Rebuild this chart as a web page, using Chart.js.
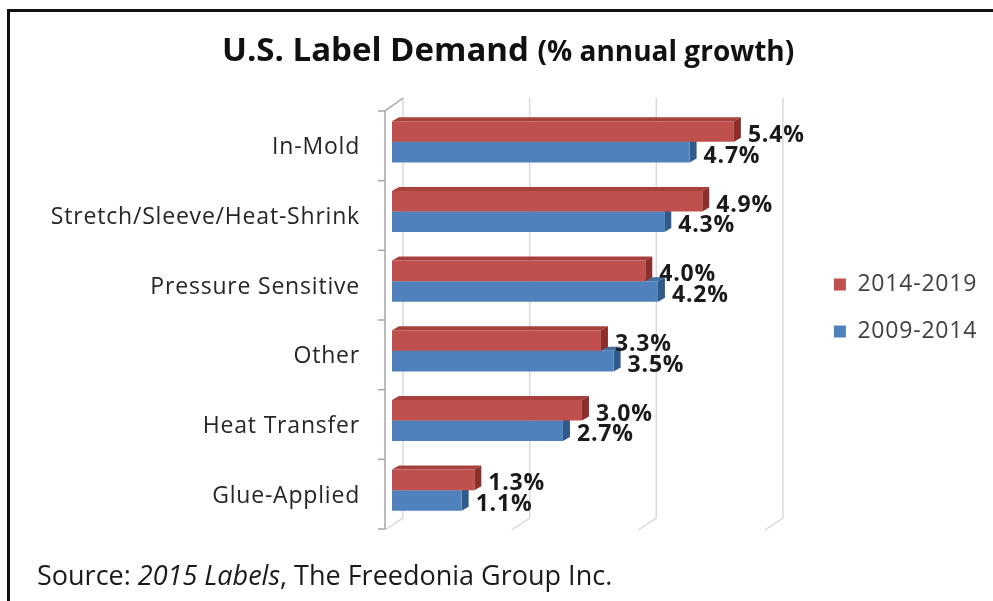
<!DOCTYPE html>
<html><head><meta charset="utf-8">
<script src="https://cdn.jsdelivr.net/npm/chart.js@4.4.0/dist/chart.umd.min.js"></script>
<style>
html,body{margin:0;padding:0;background:#fff;}
#wrap{position:relative;width:993px;height:601px;overflow:hidden;font-family:"Open Sans",Lato,sans-serif;}
#frame{position:absolute;left:7px;top:9px;right:-10px;bottom:-10px;border-top:3px solid #111;border-left:3px solid #111;}
#title{position:absolute;left:222px;top:26px;white-space:nowrap;font-weight:bold;color:#111;font-size:33px;}
#title span{font-size:28px;}
#source{position:absolute;left:37px;top:556px;font-size:27px;color:#1a1a1a;white-space:nowrap;}
canvas{position:absolute;left:0;top:0;}
</style></head>
<body><div id="wrap"><div id="frame"></div>
<canvas id="c" width="993" height="601"></canvas>
<div id="title">U.S. Label Demand <span>(% annual growth)</span></div>
<div id="source">Source: <i>2015 Labels</i>, The Freedonia Group Inc.</div>
</div>
<script>
const categories = ['In-Mold','Stretch/Sleeve/Heat-Shrink','Pressure Sensitive','Other','Heat Transfer','Glue-Applied'];
const seriesNames = ['2014-2019','2009-2014'];
const values2014_2019 = [5.4,4.9,4.0,3.3,3.0,1.3];
const values2009_2014 = [4.7,4.3,4.2,3.5,2.7,1.1];
const gridValues = [0,2,4,6];

const FACES = {'#C0504D':['#A8403D','#8A2F2C'], '#4F81BD':['#44719F','#2F5A8C']};

const spacing = {
  id:'spacing',
  beforeDraw(chart){ chart.ctx.letterSpacing = '0.8px'; }
};

const barDepth = {
  id:'barDepth',
  beforeDatasetDraw(chart, args){
    const ctx = chart.ctx;
    const col = chart.data.datasets[args.index].backgroundColor;
    const [topC, sideC] = FACES[col];
    const dx = 7, dy = 4;
    ctx.save();
    args.meta.data.forEach(bar=>{
      const {x, y, base, height} = bar.getProps(['x','y','base','height'], true);
      const t = y - height/2, b = y + height/2;
      ctx.fillStyle = topC;
      ctx.beginPath(); ctx.moveTo(base,t); ctx.lineTo(x,t); ctx.lineTo(x+dx,t-dy); ctx.lineTo(base+dx,t-dy); ctx.closePath(); ctx.fill();
      ctx.fillStyle = sideC;
      ctx.beginPath(); ctx.moveTo(x,t); ctx.lineTo(x+dx,t-dy); ctx.lineTo(x+dx,b-dy); ctx.lineTo(x,b); ctx.closePath(); ctx.fill();
    });
    ctx.restore();
  }
};

const walls = {
  id:'walls',
  beforeDatasetsDraw(chart){
    const {ctx, chartArea:{top,bottom,left}, scales:{x,y}} = chart;
    ctx.save();
    ctx.lineWidth = 1.5;
    ctx.strokeStyle = '#D9D9D9';
    gridValues.forEach(v=>{
      const px = x.getPixelForValue(v);
      ctx.beginPath();
      ctx.moveTo(px-7, bottom+5);
      ctx.lineTo(px+11, bottom-7);
      ctx.lineTo(px+11, top-9);
      ctx.stroke();
    });
    ctx.strokeStyle = '#A6A6A6';
    ctx.beginPath();
    ctx.moveTo(left+11, top-9);
    ctx.lineTo(left-7, top+4);
    ctx.lineTo(left-7, bottom+4);
    ctx.stroke();
    const n = categories.length;
    const step = (bottom-top)/n;
    for(let i=0;i<=n;i++){
      const yy = (i<n ? y.getPixelForValue(i) - step/2 : y.getPixelForValue(n-1) + step/2) + 4;
      ctx.beginPath(); ctx.moveTo(left-14, yy); ctx.lineTo(left-7, yy); ctx.stroke();
    }
    ctx.restore();
  }
};

const valueLabels = {
  id:'valueLabels',
  afterDatasetsDraw(chart){
    const ctx = chart.ctx;
    ctx.save();
    ctx.font = 'bold 23px "Open Sans"';
    ctx.fillStyle = '#1a1a1a';
    ctx.textBaseline = 'middle';
    ctx.textAlign = 'left';
    chart.data.datasets.forEach((ds, di)=>{
      chart.getDatasetMeta(di).data.forEach((bar, i)=>{
        ctx.fillText(ds.data[i].toFixed(1)+'%', bar.x + 14, bar.y + 4);
      });
    });
    ctx.restore();
  }
};

new Chart(document.getElementById('c'), {
  type:'bar',
  data:{
    labels: categories,
    datasets:[
      {label: seriesNames[0], data: values2014_2019, backgroundColor:'#C0504D', borderWidth:0},
      {label: seriesNames[1], data: values2009_2014, backgroundColor:'#4F81BD', borderWidth:0}
    ]
  },
  options:{
    indexAxis:'y',
    responsive:false,
    animation:false,
    devicePixelRatio:1,
    categoryPercentage:0.59,
    barPercentage:1.0,
    layout:{padding:{left:0, top:107, right:13, bottom:76}},
    scales:{
      x:{display:false, min:0, max:6.6},
      y:{
        grid:{display:false, drawTicks:false},
        border:{display:false},
        ticks:{padding:32, labelOffset:6, color:'#262626', font:{family:'Open Sans', size:23}},
        afterFit(scale){ scale.width = 392; }
      }
    },
    plugins:{
      legend:{
        position:'right', align:'center',
        title:{display:true, text:'', font:{size:10, lineHeight:1}, padding:{top:0, bottom:-26}},
        labels:{boxWidth:12, boxHeight:12, padding:24, color:'#404040', font:{family:'Open Sans', size:23}}
      },
      tooltip:{enabled:false}
    }
  },
  plugins:[spacing, walls, barDepth, valueLabels]
});
</script>
</body></html>
